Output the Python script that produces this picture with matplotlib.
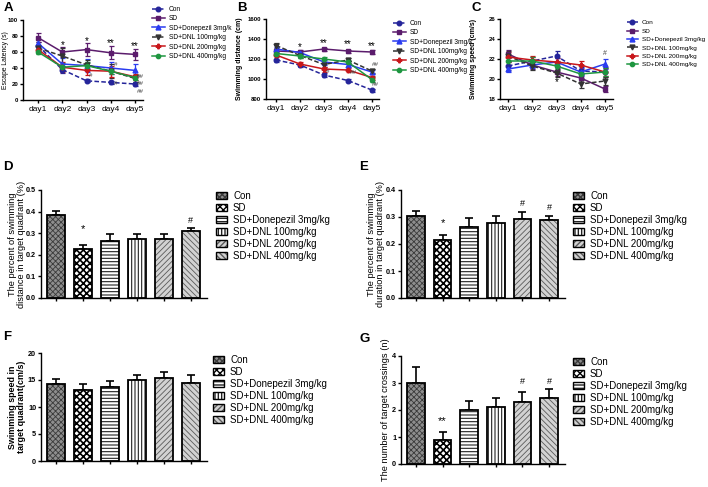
import matplotlib
matplotlib.use('Agg')
import matplotlib.pyplot as plt
from matplotlib.lines import Line2D
from matplotlib.patches import Rectangle

plt.rcParams['font.family'] = ['Liberation Sans', 'DejaVu Sans']

W, H = 708, 487
fig = plt.figure(figsize=(W / 100, H / 100), dpi=100)

# ---------------- data ----------------
days = ['day1', 'day2', 'day3', 'day4', 'day5']
groups = ['Con', 'SD', 'SD+Donepezil 3mg/kg', 'SD+DNL 100mg/kg',
          'SD+DNL 200mg/kg', 'SD+DNL 400mg/kg']

# A: escape latency (s)
lat_con = [68, 38, 24, 22, 20]
lat_sd = [78, 60, 63, 59, 57]
lat_don = [71, 45, 43, 40, 37]
lat_d100 = [65, 55, 44, 36, 27]
lat_d200 = [63, 41, 37, 36, 29]
lat_d400 = [60, 41, 43, 36, 28]
lat_con_err = [4, 4, 2, 2, 2]
lat_sd_err = [6, 6, 8, 8, 7]
lat_don_err = [5, 7, 8, 7, 8]
lat_d100_err = [4, 10, 6, 9, 4]
lat_d200_err = [4, 6, 6, 7, 4]
lat_d400_err = [3, 5, 4, 4, 3]

# B: swimming distance (cm)
dist_con = [1190, 1140, 1040, 985, 890]
dist_sd = [1280, 1270, 1300, 1280, 1270]
dist_don = [1300, 1265, 1170, 1145, 1070]
dist_d100 = [1335, 1235, 1145, 1190, 1080]
dist_d200 = [1240, 1150, 1100, 1090, 1015]
dist_d400 = [1255, 1230, 1200, 1170, 995]
dist_con_err = [15, 15, 20, 15, 15]
dist_sd_err = [20, 20, 15, 15, 20]
dist_don_err = [20, 20, 25, 20, 20]
dist_d100_err = [25, 25, 25, 25, 20]
dist_d200_err = [20, 20, 25, 20, 20]
dist_d400_err = [20, 20, 25, 20, 25]

# C: swimming speed (cm/s)
spd_con = [21.3, 21.8, 22.3, 20.8, 20.7]
spd_sd = [22.5, 21.4, 20.7, 20.1, 19.0]
spd_don = [21.0, 21.4, 21.7, 20.7, 21.5]
spd_d100 = [22.3, 21.3, 20.6, 19.5, 19.8]
spd_d200 = [22.2, 21.9, 21.7, 21.4, 20.7]
spd_d400 = [21.8, 21.8, 21.3, 20.5, 20.7]
spd_con_err = [0.4, 0.4, 0.5, 0.4, 0.5]
spd_sd_err = [0.4, 0.4, 0.4, 0.4, 0.3]
spd_don_err = [0.3, 0.3, 0.4, 0.4, 0.5]
spd_d100_err = [0.5, 0.4, 0.4, 0.4, 0.4]
spd_d200_err = [0.5, 0.4, 0.4, 0.4, 0.4]
spd_d400_err = [0.4, 0.4, 0.4, 0.4, 0.4]

# D-G bar panels
dist_pct = [0.385, 0.226, 0.262, 0.272, 0.274, 0.308]
dist_pct_err = [0.018, 0.020, 0.032, 0.025, 0.023, 0.014]
dur_pct = [0.302, 0.215, 0.262, 0.279, 0.293, 0.289]
dur_pct_err = [0.020, 0.019, 0.033, 0.025, 0.025, 0.015]
speed_tq = [14.2, 13.2, 13.7, 15.0, 15.3, 14.5]
speed_tq_err = [1.0, 1.0, 1.1, 1.0, 1.1, 1.5]
crossings = [3.0, 0.9, 2.0, 2.1, 2.3, 2.44]
crossings_err = [0.6, 0.3, 0.35, 0.36, 0.35, 0.33]

# ---------------- helpers ----------------
def px_axes(x0, y0, x1, y1):
    return fig.add_axes([x0 / W, 1 - y1 / H, (x1 - x0) / W, (y1 - y0) / H])

line_styles = [
    dict(color='#25259a', ls=(0, (3, 1.5)), marker='o', ms=3.3),
    dict(color='#5b1c6c', ls='-', marker='s', ms=3.3),
    dict(color='#2a3cf0', ls='-', marker='^', ms=3.5),
    dict(color='#333333', ls=(0, (3, 1.5)), marker='v', ms=3.5),
    dict(color='#c8171b', ls='-', marker='P', ms=3.3),
    dict(color='#1e9640', ls='-', marker='o', ms=3.1),
]


def line_panel(ax, series, errs, xlim, ylim, yticks, ylabel, ylabel_bold, ylabel_size, label_x):
    x = list(range(1, 6))
    for vals, e, st in zip(series, errs, line_styles):
        ax.errorbar(x, vals, yerr=e, color=st['color'], ls=st['ls'], marker=st['marker'],
                    ms=st['ms'], lw=1.1, elinewidth=0.9, capsize=1.8, capthick=0.9)
    ax.set_xlim(*xlim)
    ax.set_ylim(*ylim)
    ax.set_yticks(yticks)
    ax.set_yticklabels([str(t) for t in yticks], fontsize=4.3, fontweight='bold')
    ax.set_xticks(x)
    ax.set_xticklabels(days, fontsize=6)
    for s in ['top', 'right']:
        ax.spines[s].set_visible(False)
    for s in ['left', 'bottom']:
        ax.spines[s].set_linewidth(1.0)
    ax.tick_params(axis='both', direction='out', length=2.5, width=1.0)
    ax.tick_params(axis='y', pad=1)
    ax.tick_params(axis='x', pad=2)
    ax.set_ylabel(ylabel, fontsize=ylabel_size, fontweight='bold' if ylabel_bold else 'normal')
    ax.yaxis.set_label_coords(label_x, 0.5)


def line_legend(ax, labels, x_px, y_px, fs=4.8, hl=1.9, ls=0.36):
    handles = [Line2D([], [], color=st['color'], ls=st['ls'], marker=st['marker'],
                      ms=st['ms'], lw=1.1) for st in line_styles]
    ax.legend(handles, labels, loc='upper left', bbox_to_anchor=(x_px / W, 1 - y_px / H),
              bbox_transform=fig.transFigure, frameon=False, fontsize=fs,
              handlelength=hl, handletextpad=0.6, labelspacing=ls, borderpad=0,
              borderaxespad=0, numpoints=1)


bar_specs = [
    dict(face='#8e8e8e', hatch='xxxxxx', hcolor='#3a3a3a', hlw=0.6),
    dict(face='white', hatch='xxxxx', hcolor='black', hlw=1.2),
    dict(face='white', hatch='-----', hcolor='#222222', hlw=0.8),
    dict(face='white', hatch='|||||', hcolor='#222222', hlw=0.8),
    dict(face='#d2d2d2', hatch='//////', hcolor='#5a5a5a', hlw=0.6),
    dict(face='#d2d2d2', hatch='\\\\\\\\\\\\', hcolor='#5a5a5a', hlw=0.6),
]


def set_hlw(p, lw):
    if hasattr(p, 'set_hatch_linewidth'):
        p.set_hatch_linewidth(lw)


def bar_panel(ax, vals, errs, ylim, yticks, ylabel, ylabel_bold, ylabel_size, ticklabels, label_x):
    pos = list(range(len(vals)))
    width = 0.66
    for i, (v, e, sp) in enumerate(zip(vals, errs, bar_specs)):
        with plt.rc_context({'hatch.linewidth': sp['hlw']}):
            b = ax.bar(pos[i], v, width=width, color=sp['face'], edgecolor=sp['hcolor'],
                       hatch=sp['hatch'], lw=0, zorder=2)
            set_hlw(b[0], sp['hlw'])
        ax.bar(pos[i], v, width=width, fill=False, edgecolor='black', lw=1.3, zorder=3)
        ax.errorbar(pos[i], v, yerr=[[0], [e]], color='black', lw=1.2, capsize=3.2,
                    capthick=1.2, zorder=1)
    ax.set_xlim(-0.56, 5.6)
    ax.set_ylim(*ylim)
    ax.set_yticks(yticks)
    ax.set_yticklabels(ticklabels, fontsize=5.2, fontweight='bold')
    ax.set_xticks(pos)
    ax.set_xticklabels([])
    for s in ['top', 'right']:
        ax.spines[s].set_visible(False)
    for s in ['left', 'bottom']:
        ax.spines[s].set_linewidth(1.0)
    ax.tick_params(axis='both', direction='out', length=2.5, width=1.0)
    ax.tick_params(axis='y', pad=1)
    ax.set_ylabel(ylabel, fontsize=ylabel_size, fontweight='bold' if ylabel_bold else 'normal',
                  linespacing=1.05)
    ax.yaxis.set_label_coords(label_x, 0.5)


def bar_legend(ax, x_px, y_px):
    handles = []
    for sp in bar_specs:
        with plt.rc_context({'hatch.linewidth': sp['hlw']}):
            h = Rectangle((0, 0), 1, 1, facecolor=sp['face'], edgecolor=sp['hcolor'],
                          hatch=sp['hatch'], lw=0)
            set_hlw(h, sp['hlw'])
        o = Rectangle((0, 0), 1, 1, fill=False, edgecolor='black', lw=1.0)
        handles.append((h, o))
    ax.legend(handles, groups, loc='upper left', bbox_to_anchor=(x_px / W, 1 - y_px / H),
              bbox_transform=fig.transFigure, frameon=False, fontsize=7,
              handlelength=1.15, handleheight=0.75, handletextpad=0.6, labelspacing=0.2,
              borderpad=0, borderaxespad=0)


def letter(x_px, y_px, s):
    fig.text(x_px / W, 1 - y_px / H, s, fontsize=9.5, fontweight='bold', va='top', ha='left')


# ---------------- panel A ----------------
axA = px_axes(23, 20, 143, 100)
line_panel(axA, [lat_con, lat_sd, lat_don, lat_d100, lat_d200, lat_d400],
           [lat_con_err, lat_sd_err, lat_don_err, lat_d100_err, lat_d200_err, lat_d400_err],
           (0.38, 5.33), (0, 100), [0, 20, 40, 60, 80, 100], 'Escape Latency (s)', False, 4.9,
           -0.115)
for xd, yv, s in [(2, 69, '*'), (3, 74, '*'), (4, 71, '**'), (5, 68, '**')]:
    axA.text(xd, yv, s, fontsize=7, ha='center', va='center')
for xd, yv, s in [(3.18, 31, '#'), (4.2, 44, '#'), (4.2, 20, '#'),
                  (5.22, 29, '##'), (5.22, 20, '##'), (5.22, 10, '##')]:
    axA.text(xd, yv, s, fontsize=4.5, ha='center', va='center', color='#444444')
line_legend(axA, ['Con', 'SD', 'SD+Donepezil 3mg/k', 'SD+DNL 100mg/kg',
                  'SD+DNL 200mg/kg', 'SD+DNL 400mg/kg'], 152, 6)
letter(4, 2, 'A')

# ---------------- panel B ----------------
axB = px_axes(266, 19, 379, 99)
line_panel(axB, [dist_con, dist_sd, dist_don, dist_d100, dist_d200, dist_d400],
           [dist_con_err, dist_sd_err, dist_don_err, dist_d100_err, dist_d200_err, dist_d400_err],
           (0.58, 5.3), (800, 1600), [800, 1000, 1200, 1400, 1600],
           'Swimming distance (cm)', True, 5.0, -0.2)
for xd, yv, s in [(2, 1320, '*'), (3, 1358, '**'), (4, 1348, '**'), (5, 1330, '**')]:
    axB.text(xd, yv, s, fontsize=7, ha='center', va='center')
for xd, yv, s in [(3.17, 1075, '#'), (4.22, 1060, '##'), (5.15, 1150, '##'), (5.15, 950, '##')]:
    axB.text(xd, yv, s, fontsize=4.5, ha='center', va='center', color='#444444')
line_legend(axB, ['Con', 'SD', 'SD+Donepezil 3mg/k', 'SD+DNL 100mg/kg',
                  'SD+DNL 200mg/kg', 'SD+DNL 400mg/kg'], 393, 20)
letter(237, 2, 'B')

# ---------------- panel C ----------------
axC = px_axes(500, 19, 613, 99)
line_panel(axC, [spd_con, spd_sd, spd_don, spd_d100, spd_d200, spd_d400],
           [spd_con_err, spd_sd_err, spd_don_err, spd_d100_err, spd_d200_err, spd_d400_err],
           (0.67, 5.33), (18, 26), [18, 20, 22, 24, 26], 'Swimming speed (cm/s)', True, 5.0,
           -0.2)
axC.text(3, 19.65, '*', fontsize=7, ha='center', va='center')
axC.text(5, 22.55, '#', fontsize=5, ha='center', va='center', color='#444444')
line_legend(axC, groups, 627, 20, fs=4.6, hl=1.7, ls=0.45)
letter(471, 2, 'C')

# ---------------- panel D ----------------
axD = px_axes(41, 190, 207, 298)
bar_panel(axD, dist_pct, dist_pct_err, (0, 0.5), [0, 0.1, 0.2, 0.3, 0.4, 0.5],
          'The percent of swimming\ndistance in target quadrant (%)', False, 6.7,
          ['0.0', '0.1', '0.2', '0.3', '0.4', '0.5'], -0.09)
axD.text(1, 0.295, '*', fontsize=8, ha='center', va='bottom')
axD.text(5, 0.338, '#', fontsize=6.5, ha='center', va='bottom')
bar_legend(axD, 216, 191)
letter(3, 161, 'D')

# ---------------- panel E ----------------
axE = px_axes(401, 190, 565, 298)
bar_panel(axE, dur_pct, dur_pct_err, (0, 0.4), [0, 0.1, 0.2, 0.3, 0.4],
          'The percent of swimming\nduration in target quadrant (%)', False, 6.7,
          ['0.0', '0.1', '0.2', '0.3', '0.4'], -0.098)
axE.text(1, 0.258, '*', fontsize=8, ha='center', va='bottom')
axE.text(4, 0.333, '#', fontsize=6.5, ha='center', va='bottom')
axE.text(5, 0.318, '#', fontsize=6.5, ha='center', va='bottom')
bar_legend(axE, 573, 191)
letter(359, 161, 'E')

# ---------------- panel F ----------------
axF = px_axes(41, 353, 207, 461)
bar_panel(axF, speed_tq, speed_tq_err, (0, 20), [0, 5, 10, 15, 20],
          'Swimming speed in\ntarget quadrant(cm/s)', True, 6.4,
          ['0', '5', '10', '15', '20'], -0.09)
bar_legend(axF, 213, 355)
letter(3, 331, 'F')

# ---------------- panel G ----------------
axG = px_axes(401, 356, 565, 464)
bar_panel(axG, crossings, crossings_err, (0, 4), [0, 1, 2, 3, 4],
          'The number of target crossings (n)', False, 6.7,
          ['0', '1', '2', '3', '4'], -0.067)
axG.text(1, 1.42, '**', fontsize=8, ha='center', va='bottom')
axG.text(4, 2.9, '#', fontsize=6.5, ha='center', va='bottom')
axG.text(5, 2.9, '#', fontsize=6.5, ha='center', va='bottom')
bar_legend(axG, 573, 357)
letter(359, 333, 'G')

fig.savefig('out.png', dpi=100, facecolor='white')
